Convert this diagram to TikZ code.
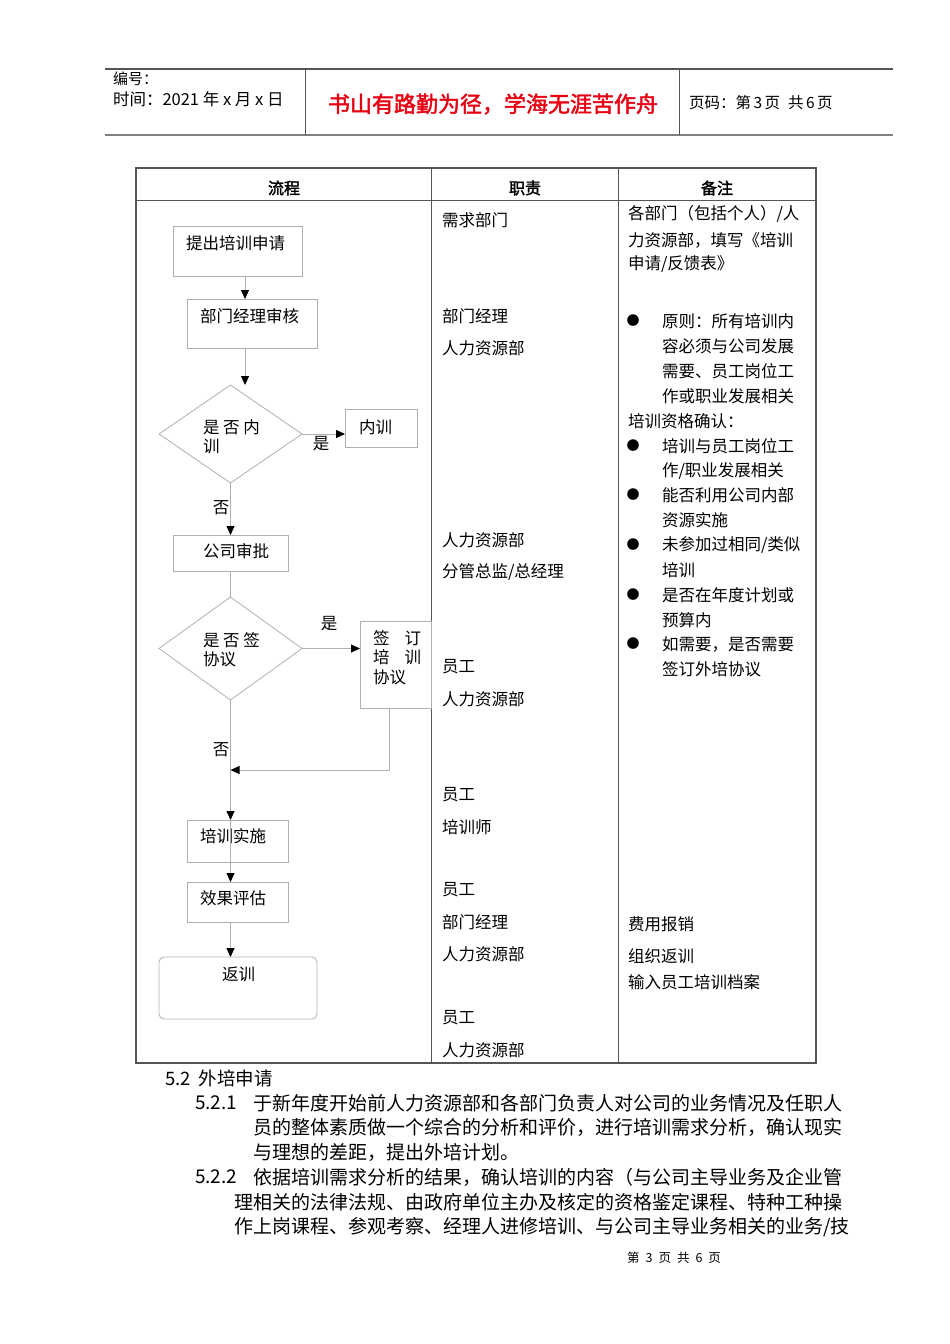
\documentclass[tikz,border=0pt]{standalone}
\usepackage{fontspec}
\setmainfont{Noto Sans CJK SC}[AutoFakeBold=2]
\usetikzlibrary{arrows.meta,shapes.geometric,calc}
\definecolor{boxgray}{RGB}{175,175,175}
\definecolor{rulegray}{RGB}{85,85,85}
\definecolor{slogan}{RGB}{230,0,18}
\newcommand{\fs}[1]{\fontsize{#1}{#1}\selectfont}
\begin{document}
\begin{tikzpicture}[x=1pt,y=-1pt,
  every node/.style={inner sep=0pt, outer sep=0pt, font=\fs{16.5}},
  txt/.style={anchor=west, align=left},
  fbox/.style n args={2}{draw=boxgray, line width=0.8pt, minimum width=#1, minimum height=#2},
  dia/.style n args={2}{draw=boxgray, line width=0.8pt, diamond, minimum width=#1, minimum height=#2},
  arr/.style={draw=boxgray, line width=0.8pt, -{Triangle[length=9pt,width=8pt,black]}},
  ln/.style={draw=boxgray, line width=0.8pt},
  body/.style={anchor=west, font=\fs{19}},
  bul/.style={font=\fs{13}}]
\useasboundingbox (0,0) rectangle (950,1344);

% ---------- header ----------
\draw[rulegray, line width=1.2pt] (105,69) -- (893,69);
\draw[gray, line width=2pt] (105,135) -- (893,135);
\draw[rulegray, line width=1pt] (305,69) -- (305,135) (679,69) -- (679,135);
\node[txt, font=\fs{15}] (bh) at (113,79) {编号：};
\node[txt, font=\fs{16.5}] (sj) at (113,99) {时间：2021 年 x 月 x 日};
\node[font=\fs{22}\bfseries, text=slogan] (slg) at (493,104) {书山有路勤为径，学海无涯苦作舟};
\node[txt, font=\fs{15.5}] (ym) at (689,103) {页码：第\hspace{2.5pt}3\hspace{2.5pt}页\hspace{8pt}共\hspace{2.5pt}6\hspace{2.5pt}页};

% ---------- table ----------
\draw[rulegray, line width=1.3pt] (136,168) rectangle (816,1063);
\draw[rulegray, line width=0.8pt] (136,200) -- (816,200);
\draw[rulegray, line width=1pt] (431,168) -- (431,1063) (618,168) -- (618,1063);
\node[font=\fs{16}\bfseries] (h1) at (284,188) {流程};
\node[font=\fs{16}\bfseries] (h2) at (525,188) {职责};
\node[font=\fs{16}\bfseries] (h3) at (717,188) {备注};

% ---------- flowchart ----------
\node[fbox={129}{50}] (b1) at (237.5,251) {};
\node[txt] (t1) at (186,243) {提出培训申请};
\node[fbox={130}{49}] (b2) at (252,323.5) {};
\node[txt] (t2) at (200,316) {部门经理审核};
\node[dia={143}{98}] (d1) at (230.5,434) {};
\node[txt, align=left] (t3) at (203,436.5) {是 否 内\\[2.5pt]训};
\node[fbox={72}{38}] (nx) at (381,428) {};
\node[txt] (t4) at (359,427) {内训};
\node[fbox={115}{36}] (gs) at (230.5,553) {};
\node[txt] (t5) at (203,551) {公司审批};
\node[dia={143}{103}] (d2) at (230.5,648.5) {};
\node[txt, align=left] (t6) at (203,649.5) {是 否 签\\[2.5pt]协议};
\node[fbox={71}{87}] (qd) at (395.5,664.5) {};
\node[txt] (t7a) at (373,638) {签\hspace{15pt}订};
\node[txt] (t7b) at (373,657) {培\hspace{15pt}训};
\node[txt] (t7c) at (373,677) {协议};
\node[fbox={101}{42}] (ss) at (237.5,841) {};
\node[txt] (t8) at (200,836) {培训实施};
\node[fbox={101}{40}] (pg) at (237.5,902) {};
\node[txt] (t9) at (200,898) {效果评估};
\node[fbox={158}{62}, rounded corners=5pt] (fx) at (238,988) {};
\node[txt] (t10) at (222,974) {返训};

\coordinate (m) at (230.5,770);
\draw[arr] ([xshift=7.5pt]b1.south) -- ([xshift=7.5pt]b1.south |- b2.north);
\draw[arr] ([xshift=-7pt]b2.south) -- ([xshift=-7pt]b2.south |- d1.north);
\draw[arr] (d1.east) -- (d1.east -| nx.west);
\draw[arr] (d1.south) -- (gs.north);
\draw[ln] (gs.south) -- (d2.north);
\draw[arr] (d2.east) -- (d2.east -| qd.west);
\draw[arr] ([xshift=-6.5pt]qd.south) |- (m);
\draw[arr] (d2.south) -- (d2.south |- ss.north);
\draw[arr] (d2.south |- ss.north) -- (d2.south |- pg.north);
\draw[arr] (d2.south |- pg.south) -- (d2.south |- fx.north);
\node (y1) at (321,444) {是};
\node (n1) at (221,508) {否};
\node (y2) at (329,624) {是};
\node (n2) at (221,750) {否};

% ---------- column 2 ----------
\node[txt] (r1) at (442,220) {需求部门};
\node[txt] (r2) at (442,316) {部门经理};
\node[txt] (r3) at (442,348) {人力资源部};
\node[txt] (r4) at (442,540) {人力资源部};
\node[txt] (r5) at (442,572) {分管总监/总经理};
\node[txt] (r6) at (442,667) {员工};
\node[txt] (r7) at (442,699) {人力资源部};
\node[txt] (r8) at (442,795) {员工};
\node[txt] (r9) at (442,827) {培训师};
\node[txt] (r10) at (442,890) {员工};
\node[txt] (r11) at (442,922) {部门经理};
\node[txt] (r12) at (442,954) {人力资源部};
\node[txt] (r13) at (442,1018) {员工};
\node[txt] (r14) at (442,1050) {人力资源部};

% ---------- column 3 ----------
\node[txt] (c1) at (628,214) {各部门（包括个人）/人};
\node[txt] (c2) at (628,240) {力资源部，填写《培训};
\node[txt] (c3) at (628,264) {申请/反馈表》};
\node[bul] (p1) at (633,321) {●};
\node[txt] (c4) at (662,321) {原则：所有培训内};
\node[txt] (c5) at (662,346) {容必须与公司发展};
\node[txt] (c6) at (662,371) {需要、员工岗位工};
\node[txt] (c7) at (662,396) {作或职业发展相关};
\node[txt] (c8) at (628,421) {培训资格确认：};
\node[bul] (p2) at (633,446) {●};
\node[txt] (c9) at (662,446) {培训与员工岗位工};
\node[txt] (c10) at (662,471) {作/职业发展相关};
\node[bul] (p3) at (633,495) {●};
\node[txt] (c11) at (662,495) {能否利用公司内部};
\node[txt] (c12) at (662,520) {资源实施};
\node[bul] (p4) at (633,545) {●};
\node[txt] (c13) at (662,545) {未参加过相同/类似};
\node[txt] (c14) at (662,570) {培训};
\node[bul] (p5) at (633,595) {●};
\node[txt] (c15) at (662,595) {是否在年度计划或};
\node[txt] (c16) at (662,620) {预算内};
\node[bul] (p6) at (633,644) {●};
\node[txt] (c17) at (662,644) {如需要，是否需要};
\node[txt] (c18) at (662,669) {签订外培协议};
\node[txt] (c19) at (628,924) {费用报销};
\node[txt] (c20) at (628,956) {组织返训};
\node[txt] (c21) at (628,982) {输入员工培训档案};

% ---------- body text ----------
\node[body, font=\fs{18.5}] (s52) at (165,1078) {5.2\hspace{4pt} 外培申请};
\node[body] (n521) at (195,1103) {5.2.1};
\node[body] (l1) at (253,1103) {于新年度开始前人力资源部和各部门负责人对公司的业务情况及任职人};
\node[body] (l2) at (253,1127) {员的整体素质做一个综合的分析和评价，进行培训需求分析，确认现实};
\node[body] (l3) at (253,1152) {与理想的差距，提出外培计划。};
\node[body] (n522) at (195,1177) {5.2.2};
\node[body] (l4) at (253,1177) {依据培训需求分析的结果，确认培训的内容（与公司主导业务及企业管};
\node[body] (l5) at (234,1202) {理相关的法律法规、由政府单位主办及核定的资格鉴定课程、特种工种操};
\node[body] (l6) at (234,1227) {作上岗课程、参观考察、经理人进修培训、与公司主导业务相关的业务/技};
\node[font=\fs{12.5}] (ft) at (674,1258) {第\hspace{6pt}3\hspace{6pt}页\hspace{6pt}共\hspace{6pt}6\hspace{6pt}页};
\end{tikzpicture}
\end{document}
